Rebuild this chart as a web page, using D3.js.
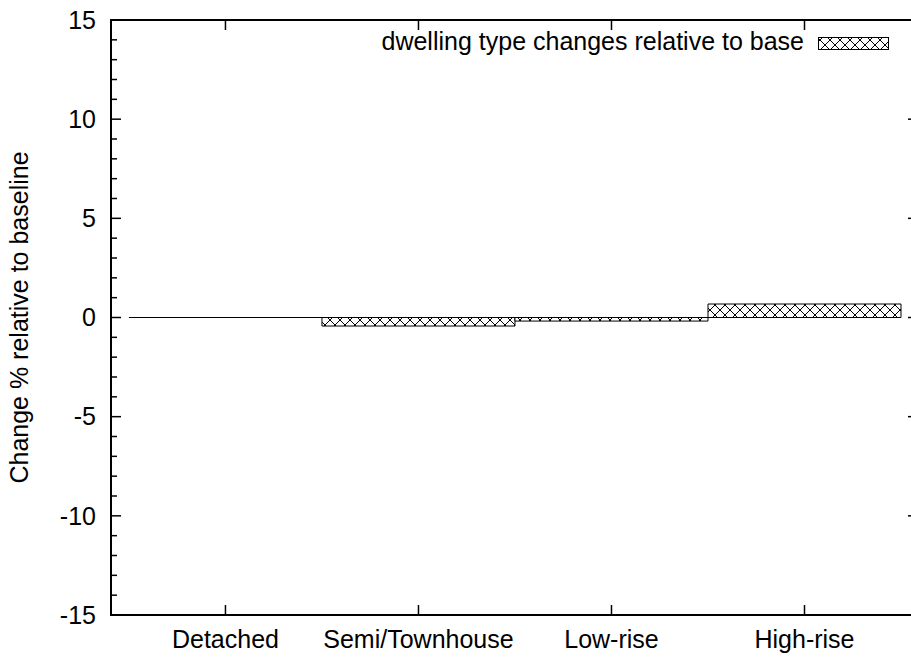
<!DOCTYPE html>
<html><head><meta charset="utf-8">
<script src="https://cdn.jsdelivr.net/npm/d3@7"></script>
<style>body{margin:0;background:#fff}text{font-family:"Liberation Sans",Arial,sans-serif;fill:#000}</style>
</head><body><svg id="c" width="911" height="657"></svg>
<script>
const categories = ["Detached","Semi/Townhouse","Low-rise","High-rise"];
const values = [0, -0.43, -0.18, 0.68];
const yTicks = [-15,-10,-5,0,5,10,15];
const seriesName = "dwelling type changes relative to base";

const svg = d3.select("#c");
const L=111, R=918, T=20, B=615;
const fs = 25;
const x = d3.scaleLinear().domain([-0.593, 3.588]).range([L, R]);
const y = d3.scaleLinear().domain([-15, 15]).range([B, T]);

const defs = svg.append("defs");
const pat = defs.append("pattern").attr("id","hatch").attr("patternUnits","userSpaceOnUse")
  .attr("width",10).attr("height",10);
pat.append("rect").attr("width",10).attr("height",10).attr("fill","#fff");
pat.append("path").attr("d","M0,0L10,10M10,0L0,10").attr("stroke","#000").attr("stroke-width",1);

// ticks
const g = svg.append("g");
const minor = d3.range(-15,16,1);
minor.forEach(v=>{
  const len = v%5===0 ? 10 : 6;
  g.append("line").attr("x1",L).attr("x2",L+len).attr("y1",y(v)).attr("y2",y(v)).attr("stroke","#000").attr("stroke-width",1.5);
  g.append("line").attr("x1",R).attr("x2",R-len).attr("y1",y(v)).attr("y2",y(v)).attr("stroke","#000").attr("stroke-width",1.5);
});
yTicks.forEach(v=>{
  g.append("text").attr("x",96).attr("y",y(v)).attr("dy","0.35em").attr("text-anchor","end").attr("font-size",fs).text(v);
});
categories.forEach((c,i)=>{
  g.append("line").attr("x1",x(i)).attr("x2",x(i)).attr("y1",B).attr("y2",B-10).attr("stroke","#000").attr("stroke-width",1.5);
  g.append("line").attr("x1",x(i)).attr("x2",x(i)).attr("y1",T).attr("y2",T+10).attr("stroke","#000").attr("stroke-width",1.5);
  g.append("text").attr("x",x(i)).attr("y",648).attr("text-anchor","middle").attr("font-size",fs).text(c);
});

// bars (paths so a zero-height bar still shows as a line)
svg.append("g").selectAll("path").data(values).join("path")
  .attr("d",(d,i)=>{
    const x0=x(i-0.5), x1=x(i+0.5), y0=y(0), y1=y(d);
    return `M${x0},${y0}L${x0},${y1}L${x1},${y1}L${x1},${y0}Z`;
  })
  .attr("fill","url(#hatch)").attr("stroke","#000").attr("stroke-width",1);

// border
svg.append("rect").attr("x",L).attr("y",T).attr("width",R-L).attr("height",B-T)
  .attr("fill","none").attr("stroke","#000").attr("stroke-width",2);

// legend
svg.append("text").attr("x",804).attr("y",50).attr("text-anchor","end").attr("font-size",fs).text(seriesName);
svg.append("rect").attr("x",818.5).attr("y",37.5).attr("width",70).attr("height",12)
  .attr("fill","url(#hatch)").attr("stroke","#000").attr("stroke-width",1);

// y title
svg.append("text").attr("transform",`translate(28,${(T+B)/2}) rotate(-90)`).attr("text-anchor","middle")
  .attr("font-size",fs).text("Change % relative to baseline");
</script></body></html>
